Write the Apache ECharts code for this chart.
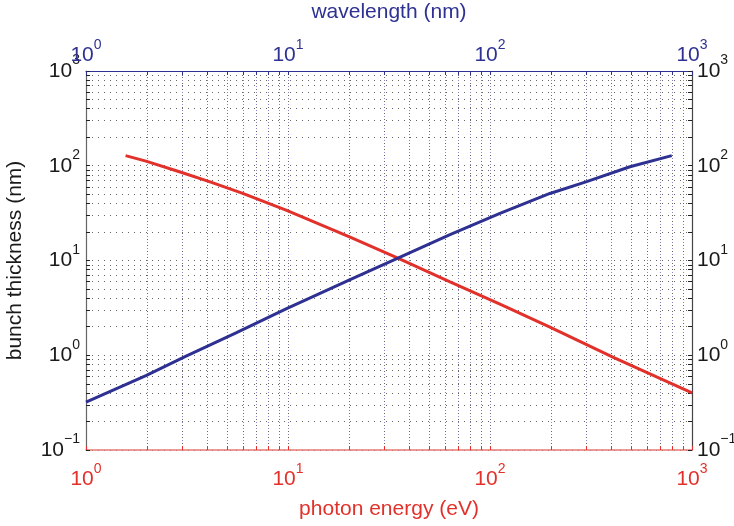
<!DOCTYPE html>
<html>
<head>
<meta charset="utf-8">
<script src="https://cdn.jsdelivr.net/npm/echarts@6/dist/echarts.min.js"></script>
<style>
  html, body { margin: 0; padding: 0; background: #fff; }
  #chart { width: 734px; height: 526px; }
</style>
</head>
<body>
<div id="chart"></div>
<script>
// red: bunch thickness vs photon energy (bottom axis)
const energyEv = [1.57, 1.98, 2.9, 4.08, 5.97, 9.78, 20.3, 35, 63.4, 112, 198, 408, 1000];
const thicknessVsEnergy = [128, 112, 86.5, 68, 51, 34, 17.6, 10.6, 5.95, 3.47, 1.98, 0.95, 0.40];

// blue: bunch thickness vs wavelength (top axis)
const wavelengthNm = [1, 1.98, 3.13, 5.53, 9.78, 20.3, 35, 63.4, 112, 198, 301, 493, 794];
const thicknessVsWavelength = [0.32, 0.61, 0.98, 1.72, 3.08, 6.3, 10.6, 18.8, 31.5, 51, 68, 97.7, 128];

const xDecades = [1, 10, 100, 1000];
const yDecades = [0.1, 1, 10, 100, 1000];

const RED = "#e2302a";
const BLUE = "#2e3192";
const FONT = "Liberation Sans";

// 1,2,...,9,10,20,... between the given decades
function logTicks(lo, hi) {
  const out = [];
  for (let d = lo; d < hi; d *= 10) {
    for (let k = 1; k < 10; k++) out.push(+(k * d).toPrecision(3));
  }
  out.push(hi);
  return out;
}

function powLabel(v) {
  const e = Math.round(Math.log10(v));
  return "{b|10}{s|" + (e < 0 ? "\u2212" + -e : e) + "}";
}

// superscript sits on top of a taller line, the "10" at its bottom
function richFor(color) {
  return {
    b: { fontSize: 21, lineHeight: 21, fontFamily: FONT, color: color, verticalAlign: "bottom" },
    s: { fontSize: 14, lineHeight: 28, fontFamily: FONT, color: color, verticalAlign: "top" },
  };
}

const chart = echarts.init(document.getElementById("chart"));

const dotted = (color) => ({
  show: true,
  lineStyle: { color: color, width: 1, type: [1, 5] },
});

const option = {
  animation: false,
  grid: { left: 86, right: 42, top: 71, bottom: 76, containLabel: false, outerBoundsMode: "none" },
  xAxis: [
    {
      type: "log",
      position: "bottom",
      min: 1,
      max: 1000,
      name: "photon energy (eV)",
      nameLocation: "middle",
      nameGap: 49,
      nameTextStyle: { color: RED, fontSize: 21, fontFamily: FONT },
      axisLine: { lineStyle: { color: "#e87a76", width: 1.5 } },
      axisTick: { inside: true, length: 4, customValues: logTicks(1, 1000), lineStyle: { color: RED } },
      axisLabel: {
        customValues: xDecades,
        formatter: powLabel,
        margin: 12,
        rich: richFor(RED),
      },
      splitLine: dotted("#666"),
    },
    {
      type: "log",
      position: "top",
      min: 1,
      max: 1000,
      name: "wavelength (nm)",
      nameLocation: "middle",
      nameGap: 48,
      nameTextStyle: { color: BLUE, fontSize: 21, fontFamily: FONT },
      axisLine: { lineStyle: { color: BLUE, width: 1.2 } },
      axisTick: { inside: true, length: 4, customValues: logTicks(1, 1000), lineStyle: { color: BLUE } },
      axisLabel: {
        customValues: xDecades,
        formatter: powLabel,
        margin: 5,
        rich: richFor(BLUE),
      },
      splitLine: { show: true, lineStyle: { color: "#8888d0", width: 1, type: [1, 5], dashOffset: 3 } },
    },
  ],
  yAxis: [
    {
      type: "log",
      position: "left",
      min: 0.1,
      max: 1000,
      name: "bunch thickness (nm)",
      nameLocation: "middle",
      nameGap: 60,
      nameTextStyle: { color: "#1a1a1a", fontSize: 21, fontFamily: FONT },
      axisLine: { show: true, lineStyle: { color: "#666", width: 1.2 } },
      axisTick: { show: true, inside: true, length: 4, customValues: logTicks(0.1, 1000), lineStyle: { color: "#222" } },
      axisLabel: {
        customValues: yDecades,
        formatter: powLabel,
        margin: 6,
        padding: [0, 0, 7, 0],
        rich: richFor("#1a1a1a"),
      },
      splitLine: dotted("#666"),
    },
    {
      type: "log",
      position: "right",
      min: 0.1,
      max: 1000,
      axisLine: { show: true, lineStyle: { color: "#444", width: 1.2 } },
      axisTick: { show: true, inside: true, length: 4, customValues: logTicks(0.1, 1000), lineStyle: { color: "#222" } },
      axisLabel: {
        customValues: yDecades,
        formatter: powLabel,
        margin: 5,
        padding: [0, 0, 7, 0],
        rich: richFor("#1a1a1a"),
      },
      splitLine: { show: false },
    },
  ],
  series: [
    {
      name: "photon energy",
      type: "line",
      xAxisIndex: 0,
      yAxisIndex: 0,
      data: energyEv.map((x, i) => [x, thicknessVsEnergy[i]]),
      showSymbol: false,
      lineStyle: { color: RED, width: 3 },
      z: 5,
    },
    {
      name: "wavelength",
      type: "line",
      xAxisIndex: 1,
      yAxisIndex: 0,
      data: wavelengthNm.map((x, i) => [x, thicknessVsWavelength[i]]),
      showSymbol: false,
      lineStyle: { color: BLUE, width: 3 },
      z: 5,
    },
  ],
};

chart.setOption(option);
</script>
</body>
</html>
